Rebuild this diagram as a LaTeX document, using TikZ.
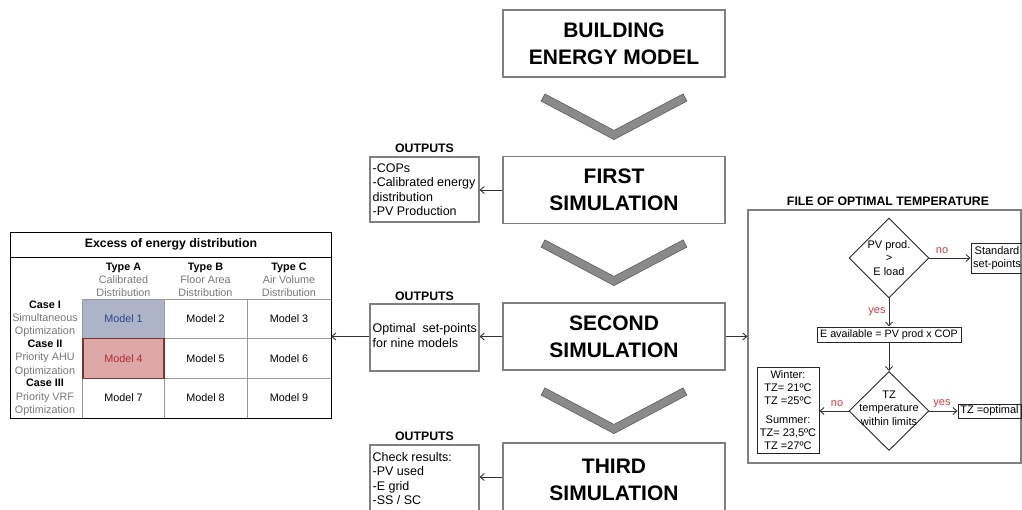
\documentclass[tikz,border=0pt]{standalone}
\usepackage{fontspec}
\setmainfont{Liberation Sans}
\usetikzlibrary{shapes.geometric,arrows.meta}
\definecolor{boxgray}{HTML}{808080}
\definecolor{chevfill}{HTML}{8A8A8A}
\definecolor{chevline}{HTML}{5E5E5E}
\definecolor{subgray}{HTML}{777777}
\definecolor{gridgray}{HTML}{9A9A9A}
\definecolor{m1fill}{HTML}{ADB4CA}
\definecolor{m1text}{HTML}{2E4488}
\definecolor{m4fill}{HTML}{DFA8A8}
\definecolor{m4line}{HTML}{7A3434}
\definecolor{m4text}{HTML}{B02A2E}
\definecolor{yred}{HTML}{E0383D}
\begin{document}
\begin{tikzpicture}[x=1pt,y=-1pt,
  mainbox/.style={draw=boxgray, line width=1.3pt, minimum width=222pt, minimum height=67pt, align=center, inner sep=0pt, font=\bfseries\fontsize{21}{27}\selectfont},
  outbox/.style={draw=boxgray, line width=1.2pt, minimum width=109pt, inner sep=0pt},
  outtext/.style={anchor=west, align=left, inner sep=0pt, font=\fontsize{12.5}{14.5}\selectfont},
  boldlabel/.style={font=\bfseries\fontsize{12.3}{14}\selectfont, inner sep=0pt},
  arr/.style={draw=black!80, line width=0.9pt, -{Straight Barb[length=4pt,width=7pt]}},
  cell/.style={minimum width=#1, minimum height=39.5pt, inner sep=0pt, font=\fontsize{10.8}{13}\selectfont},
  hdr/.style={align=center, inner sep=0pt, font=\fontsize{10.8}{13.2}\selectfont},
  fl/.style={draw=black!85, line width=0.9pt, font=\fontsize{11}{13}\selectfont, align=center, inner sep=0pt},
  fltext/.style={font=\fontsize{11}{13.5}\selectfont, align=center, inner sep=0pt},
  yn/.style={font=\fontsize{11}{13}\selectfont, text=yred, inner sep=0pt},
  dia/.style={diamond, draw=black!85, line width=0.9pt, minimum width=80pt, minimum height=80pt, inner sep=0pt}
]
\useasboundingbox (0,0) rectangle (1022,510);

% ---------- chevrons ----------
\foreach \dy in {0,146,294}{
  \begin{scope}[shift={(0,\dy)}]
    \filldraw[fill=chevfill, draw=chevline, line width=0.6pt, line join=miter]
      (544.9,93.9) -- (614,130.4) -- (683.1,93.9) -- (686.9,101.1) -- (614,139.6) -- (541.1,101.1) -- cycle;
  \end{scope}
}

% ---------- main column ----------
\node[mainbox] (bem) at (614,43.5) {BUILDING\\ENERGY MODEL};
\node[mainbox] (first) at (614,190) {FIRST\\SIMULATION};
\node[mainbox] (second) at (614,336.5) {SECOND\\SIMULATION};
\node[mainbox, minimum height=73pt] (third) at (614,479.5) {THIRD\\SIMULATION};

% ---------- outputs ----------
\node[outbox, minimum height=65pt] (out1) at (424.5,189.5) {};
\node[outtext] (out1t) at ([xshift=3pt]out1.west) {-COPs\\-Calibrated energy\\distribution\\-PV Production};
\node[boldlabel] (lab1) at (424.5,148) {OUTPUTS};
\node[outbox, minimum height=67pt] (out2) at (424.5,337.5) {};
\node[outtext] (out2t) at ([xshift=3pt,yshift=2pt]out2.west) {Optimal~ set-points\\for nine models};
\node[boldlabel] (lab2) at (424.5,296) {OUTPUTS};
\node[outbox, minimum height=67pt] (out3) at (424.5,478.5) {};
\node[outtext] (out3t) at ([xshift=3pt]out3.west) {Check results:\\-PV used\\-E grid\\-SS / SC};
\node[boldlabel] (lab3) at (424.5,436) {OUTPUTS};

\draw[arr] (first.west) -- (first.west -| out1.east);
\draw[arr] (second.west) -- (second.west -| out2.east);
\draw[arr] ([yshift=2.5pt]third.west) -- ([yshift=2.5pt]third.west -| out3.east);

% ---------- table ----------
\node[minimum width=320pt, minimum height=185pt, inner sep=0pt] (tbl) at (171,325.5) {};
\node[boldlabel] (ttl) at (171,244) {Excess of energy distribution};
\node[hdr] (ha) at (123.5,280) {\textbf{Type A}\\\textcolor{subgray}{Calibrated}\\\textcolor{subgray}{Distribution}};
\node[hdr] (hb) at (205.5,280) {\textbf{Type B}\\\textcolor{subgray}{Floor Area}\\\textcolor{subgray}{Distribution}};
\node[hdr] (hc) at (289,280) {\textbf{Type C}\\\textcolor{subgray}{Air Volume}\\\textcolor{subgray}{Distribution}};
\node[hdr] (r1) at (45,319) {\textbf{Case I}\\\textcolor{subgray}{Simultaneous}\\\textcolor{subgray}{Optimization}};
\node[hdr] (r2) at (45,358.3) {\textbf{Case II}\\\textcolor{subgray}{Priority AHU}\\\textcolor{subgray}{Optimization}};
\node[hdr] (r3) at (45,397.5) {\textbf{Case III}\\\textcolor{subgray}{Priority VRF}\\\textcolor{subgray}{Optimization}};

\node[cell=81pt, fill=m1fill, text=m1text] (m1) at (123.5,319) {Model 1};
\node[cell=83pt] (m2) at (205.5,319) {Model 2};
\node[cell=84pt] (m3) at (289,319) {Model 3};
\node[cell=81pt, fill=m4fill, text=m4text] (m4) at (123.5,358.5) {Model 4};
\node[cell=83pt] (m5) at (205.5,358.5) {Model 5};
\node[cell=84pt] (m6) at (289,358.5) {Model 6};
\node[cell=81pt] (m7) at (123.5,398) {Model 7};
\node[cell=83pt] (m8) at (205.5,398) {Model 8};
\node[cell=84pt] (m9) at (289,398) {Model 9};

\begin{scope}[draw=gridgray, line width=0.9pt]
  \draw (m1.north west) -- (m3.north east);
  \draw (m1.south west) -- (m3.south east);
  \draw (m4.south west) -- (m6.south east);
  \draw (m1.north west) -- (m7.south west);
  \draw (m1.north east) -- (m7.south east);
  \draw (m2.north east) -- (m8.south east);
\end{scope}
\draw[draw=m4line, line width=1.5pt] (m4.north west) rectangle (m4.south east);
\draw[black, line width=0.9pt] (tbl.north west) rectangle (tbl.south east);
\draw[black, line width=0.9pt] (tbl.west |- 0,257) -- (tbl.east |- 0,257);

\draw[arr] (out2.west |- second.west) -- (tbl.east |- second.west);

% ---------- file of optimal temperature ----------
\node[draw=boxgray, line width=1.2pt, minimum width=273pt, minimum height=253pt, inner sep=0pt] (fbox) at (884.5,336.5) {};
\node[boldlabel] (ftitle) at (888,201) {FILE OF OPTIMAL TEMPERATURE};
\draw[arr] (second.east) -- (second.east -| fbox.west);

\node[dia] (d1) at (889,258) {};
\node[fltext] at (d1.center) {PV prod.\\>\\E load};
\node[fl, minimum width=52pt, minimum height=30pt] (std) at (997,258) {Standard\\set-points};
\node[fl, minimum width=144pt, minimum height=15pt, font=\fontsize{10.7}{13}\selectfont] (eav) at (889,334.5) {E available = PV prod x COP};
\node[dia, minimum height=79pt] (d2) at (889,411) {};
\node[fltext] at ([yshift=3pt]d2.center) {TZ\\temperature\\within limits};
\node[fl, minimum width=62pt, minimum height=86pt, font=\fontsize{11}{12.8}\selectfont] (win) at (788,410) {Winter:\\TZ= 21ºC\\TZ =25ºC\\[7pt]Summer:\\TZ= 23,5ºC\\TZ =27ºC};
\node[fl, minimum width=63pt, minimum height=14pt] (opt) at (989.5,411) {TZ =optimal};

\draw[arr] (d1.east) -- (std.west);
\draw[arr] (d1.south) -- (eav.north);
\draw[arr] (eav.south) -- (d2.north);
\draw[arr] (d2.west) -- (d2.west -| win.east);
\draw[arr] (d2.east) -- (d2.east -| opt.west);

\node[yn] at (942,251) {no};
\node[yn] at (877,312) {yes};
\node[yn] at (837,404) {no};
\node[yn] at (942,404) {yes};
\end{tikzpicture}
\end{document}
